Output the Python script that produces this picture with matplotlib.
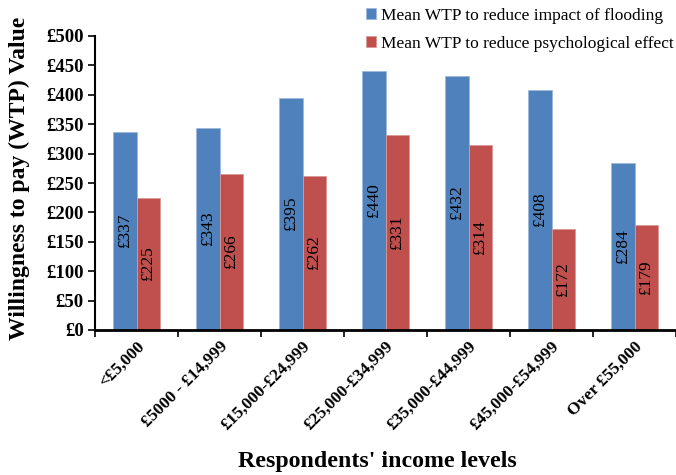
import matplotlib
matplotlib.use("Agg")
import matplotlib.pyplot as plt
import numpy as np

categories = ["<£5,000", "£5000 - £14,999", "£15,000-£24,999", "£25,000-£34,999",
              "£35,000-£44,999", "£45,000-£54,999", "Over £55,000"]
flooding = [337, 343, 395, 440, 432, 408, 284]
psych = [225, 266, 262, 331, 314, 172, 179]
series_names = ["Mean WTP to reduce impact of flooding",
                "Mean WTP to reduce psychological effect"]
yticks = [0, 50, 100, 150, 200, 250, 300, 350, 400, 450, 500]

blue = "#4F81BD"
red = "#C0504D"
serif = "Liberation Serif"

W, H = 676, 475
fig = plt.figure(figsize=(W/100, H/100), dpi=100)
ax = fig.add_axes([95/W, 1-330/H, (W-95)/W, (330-36)/H])

x = np.arange(len(categories))
bw = 0.286
b1 = ax.bar(x - bw/2, flooding, bw, color=blue, edgecolor="#9DB9DC", linewidth=0.6)
b2 = ax.bar(x + bw/2, psych, bw, color=red, edgecolor="#DA9896", linewidth=0.6)

for xi, v in zip(x - bw/2, flooding):
    ax.text(xi, v/2, f"£{v}", rotation=90, ha="center", va="center",
            fontsize=12.5, family=serif, color="black")
for xi, v in zip(x + bw/2, psych):
    ax.text(xi, v/2, f"£{v}", rotation=90, ha="center", va="center",
            fontsize=12.5, family=serif, color="black")

ax.set_xlim(-0.5, -0.5 + 581/84)
ax.set_ylim(0, 500)
ax.set_yticks(yticks)
ax.set_yticklabels([f"£{t}" for t in yticks], family=serif, fontweight="bold", fontsize=13.5)
ax.set_xticks(np.arange(-0.5, 7, 1.0), minor=False)
ax.set_xticklabels([])
ax.set_xticks(x, minor=True)
ax.set_xticklabels(categories, minor=True, rotation=45, ha="right", va="top",
                   rotation_mode="anchor", family=serif, fontweight="bold", fontsize=12.5)
ax.tick_params(axis="x", which="minor", length=0, pad=6)
ax.tick_params(axis="x", which="major", length=5, width=1.2, direction="out")
ax.tick_params(axis="y", length=5, width=1.2, direction="out", pad=3)
for s in ["top", "right"]:
    ax.spines[s].set_visible(False)
ax.spines["left"].set_linewidth(1.5)
ax.spines["bottom"].set_linewidth(2)

fig.text(19/W, 1-178/H, "Willingness to pay (WTP) Value", rotation=90, ha="center", va="center",
         family=serif, fontweight="bold", fontsize=17)
fig.text(377/W, 1-462/H, "Respondents' income levels", ha="center", va="center",
         family=serif, fontweight="bold", fontsize=17.2)

leg = fig.legend([b1, b2], series_names, loc="upper left", bbox_to_anchor=(358/W, 1.0),
                 frameon=False, prop={"family": serif, "size": 12.5},
                 handlelength=0.6, handleheight=0.6, handletextpad=0.3, labelspacing=0.7,
                 borderaxespad=0.05)

fig.savefig("out.png", dpi=100)
